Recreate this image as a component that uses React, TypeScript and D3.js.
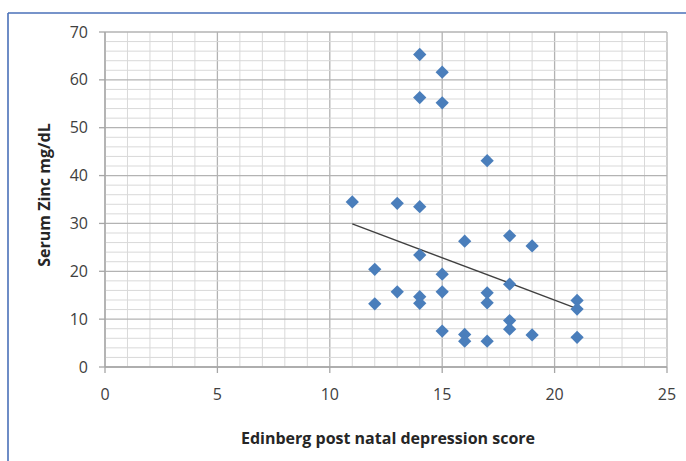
import React from "react";
import * as d3 from "d3";

const xValues: number[] = [
  11, 12, 12, 13, 13, 14, 14, 14, 14, 14, 14, 15, 15, 15, 15, 15, 16, 16, 16, 17, 17, 17, 17, 18, 18, 18, 18, 19, 19, 21, 21, 21,
];
const yValues: number[] = [
  34.5, 20.4, 13.2, 34.2, 15.7, 65.3, 56.3, 33.5, 23.4, 14.7, 13.3, 61.6, 55.2, 19.4, 15.7, 7.5, 26.3, 6.8, 5.4, 43.1, 15.5, 13.4,
  5.4, 27.4, 17.3, 9.7, 7.9, 25.3, 6.7, 13.9, 12.1, 6.2,
];
const trendX: number[] = [11, 21];
const trendY: number[] = [29.9, 12.2];
const xTicks: number[] = [0, 5, 10, 15, 20, 25];
const yTicks: number[] = [0, 10, 20, 30, 40, 50, 60, 70];
const xTitle = "Edinberg post natal depression score";
const yTitle = "Serum Zinc mg/dL";

const W = 686;
const H = 461;
const left = 105;
const right = 667;
const top = 32;
const bottom = 367;

export default function App() {
  const x = d3.scaleLinear().domain([0, 25]).range([left, right]);
  const y = d3.scaleLinear().domain([0, 70]).range([bottom, top]);
  const xMinor = d3.range(0, 26, 1);
  const yMinor = d3.range(0, 71, 2);
  const diamond = d3.symbol().type(d3.symbolSquare).size(88)()!;
  const line = d3
    .line<number>()
    .x((_, i) => x(trendX[i]))
    .y((d) => y(d));
  const font = "'Open Sans', 'Liberation Sans', sans-serif";
  return (
    <svg
      width={W}
      height={H}
      style={{ position: "absolute", left: 0, top: 0, background: "#fff" }}
    >
      <rect x={0} y={0} width={W} height={H} fill="#fff" />
      <line x1={8} y1={13} x2={W} y2={13} stroke="#4a70b8" strokeWidth={1.6} />
      <line x1={8} y1={13} x2={8} y2={H} stroke="#4a70b8" strokeWidth={1.6} />
      {xMinor.map((v) => (
        <line
          key={"xm" + v}
          x1={x(v)}
          x2={x(v)}
          y1={top}
          y2={bottom}
          stroke={v % 5 === 0 ? "#b3b3b3" : "#d9d9d9"}
          strokeWidth={v % 5 === 0 ? 1.3 : 1}
        />
      ))}
      {yMinor.map((v) => (
        <line
          key={"ym" + v}
          x1={left}
          x2={right}
          y1={y(v)}
          y2={y(v)}
          stroke={v % 10 === 0 ? "#b3b3b3" : "#d9d9d9"}
          strokeWidth={v % 10 === 0 ? 1.3 : 1}
        />
      ))}
      <line x1={left} x2={left} y1={top} y2={bottom} stroke="#a6a6a6" strokeWidth={1.3} />
      <line x1={left} x2={right} y1={bottom} y2={bottom} stroke="#a6a6a6" strokeWidth={1.3} />
      {yTicks.map((v) => (
        <g key={"yt" + v}>
          <line x1={left - 6} x2={left} y1={y(v)} y2={y(v)} stroke="#a6a6a6" strokeWidth={1.3} />
          <text
            x={left - 17}
            y={y(v)}
            dy="0.35em"
            textAnchor="end"
            fontFamily={font}
            fontSize={16}
            fill="#404040"
          >
            {v}
          </text>
        </g>
      ))}
      {xTicks.map((v) => (
        <g key={"xt" + v}>
          <line x1={x(v)} x2={x(v)} y1={bottom} y2={bottom + 6} stroke="#a6a6a6" strokeWidth={1.3} />
          <text
            x={x(v)}
            y={bottom + 27}
            dy="0.35em"
            textAnchor="middle"
            fontFamily={font}
            fontSize={16}
            fill="#404040"
          >
            {v}
          </text>
        </g>
      ))}
      <path d={line(trendY) || ""} fill="none" stroke="#404040" strokeWidth={1.4} />
      {xValues.map((xv, i) => (
        <path
          key={"p" + i}
          d={diamond}
          transform={`translate(${x(xv)},${y(yValues[i])}) rotate(45)`}
          fill="#4a7ebb"
        />
      ))}
      <text
        x={(left + right) / 2 + 2}
        y={438}
        dy="0.35em"
        textAnchor="middle"
        fontFamily={font}
        fontWeight="bold"
        fontSize={16}
        fill="#262626"
      >
        {xTitle}
      </text>
      <text
        transform={`translate(44,195) rotate(-90)`}
        dy="0.35em"
        textAnchor="middle"
        fontFamily={font}
        fontWeight="bold"
        fontSize={16}
        fill="#262626"
      >
        {yTitle}
      </text>
    </svg>
  );
}
